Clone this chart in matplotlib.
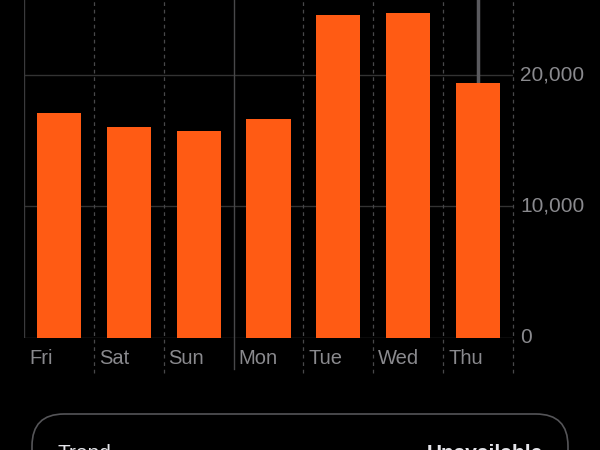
import matplotlib.pyplot as plt
from matplotlib.patches import FancyBboxPatch

days = ['Fri', 'Sat', 'Sun', 'Mon', 'Tue', 'Wed', 'Thu']
steps = [17100, 16050, 15750, 16650, 24550, 24700, 19400]
yticks = [0, 10000, 20000]
ytick_labels = ['0', '10,000', '20,000']
selected = 6  # Thu

bar_color = '#ff5b14'
grid_color = '#333333'
text_color = '#8a8a8e'

plt.rcParams['font.family'] = ['Liberation Sans', 'DejaVu Sans']

fig = plt.figure(figsize=(6, 4.5), dpi=100, facecolor='black')
ax = fig.add_axes([0.04, 0.249, 0.815, 0.751], facecolor='black')
ax.set_xlim(0, len(days))
ax.set_ylim(0, 25700)

# horizontal grid
for v in yticks:
    ax.plot([0, len(days)], [v, v], color='#3a3a3c' if v == 0 else grid_color, lw=1, zorder=1)

# vertical separators
for i in range(len(days) + 1):
    if i == 0:
        ax.plot([i, i], [0, 26000], color='#3a3a3c', lw=1, zorder=1)
    elif i == 3:
        ax.plot([i, i], [-2350, 26000], color='#48484a', lw=1, zorder=1, clip_on=False)
    else:
        ax.plot([i, i], [-2700, 26000], color='#48484a', lw=0.9, ls=(0, (3, 3)),
                zorder=1, clip_on=False)

# selection line above Thu
ax.plot([selected + 0.5, selected + 0.5], [steps[selected], 26000], color='#5a5a5e', lw=2.5, zorder=1)

x = [i + 0.5 for i in range(len(days))]
ax.bar(x, steps, width=0.63, color=bar_color, zorder=2)

for i, d in enumerate(days):
    ax.text(i + 0.07, -1550, d, color=text_color, fontsize=14.5, ha='left', va='center')

for v, lab in zip(yticks, ytick_labels):
    ax.text(len(days) + 0.1, v, lab, color=text_color, fontsize=15, ha='left', va='center')

for s in ax.spines.values():
    s.set_visible(False)
ax.set_xticks([])
ax.set_yticks([])

# trend card at bottom (cut off by the figure edge, as in the screenshot)
card = FancyBboxPatch((32, -60), 536, 96, boxstyle='round,pad=0,rounding_size=32',
                      transform=None, facecolor='black', edgecolor='#555558', lw=1.2)
fig.patches.append(card)
fig.text(57 / 600, 6 / 450, 'Trend', color='#e5e5ea', fontsize=15, ha='left', va='top')
fig.text(543 / 600, 6 / 450, 'Unavailable', color='#e5e5ea', fontsize=15, fontweight='bold',
         ha='right', va='top')

fig.savefig('out.png', dpi=100, facecolor='black')
